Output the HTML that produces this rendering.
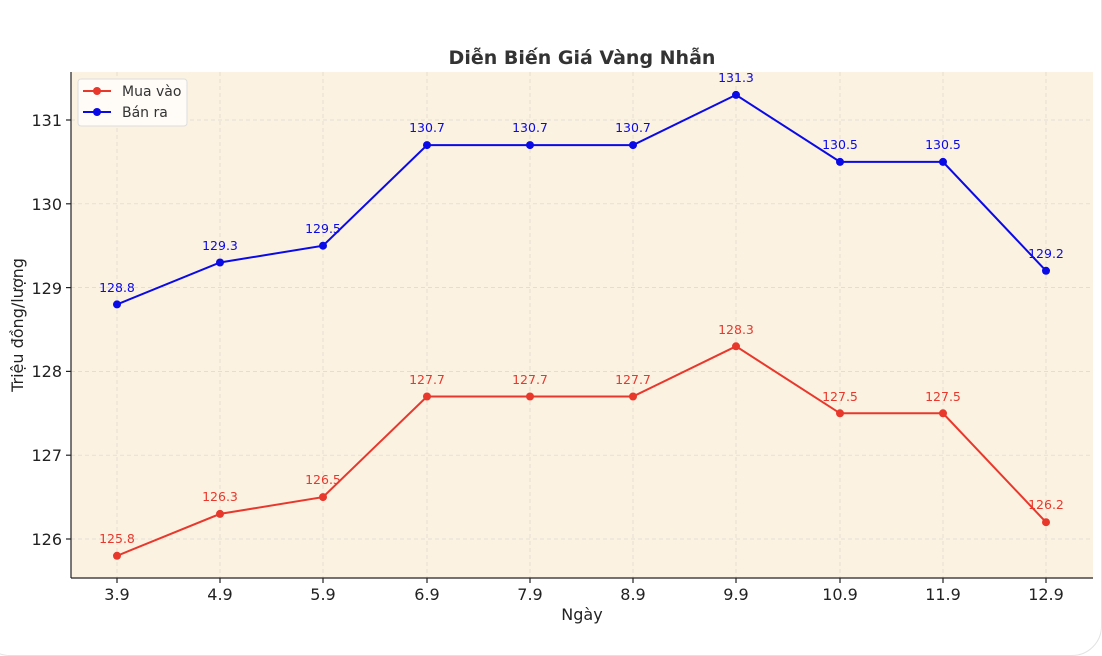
<!DOCTYPE html>
<html><head><meta charset="utf-8"><style>
body{margin:0;background:#fff;}
.card{position:absolute;left:-20px;top:-80px;width:1120px;height:734px;border:1px solid #e2e2e2;border-radius:30px;background:#fff;}
svg{position:absolute;left:0;top:0;font-family:"DejaVu Sans","Liberation Sans",sans-serif;}
</style></head><body>
<div class="card"></div>
<svg width="1102" height="656" viewBox="0 0 1102 656">
<rect x="71" y="72" width="1022" height="506" fill="#fcf2e2"/>
<g stroke="#ddd6cb" stroke-width="0.7" stroke-dasharray="4,3">
<line x1="117" y1="72" x2="117" y2="578"/><line x1="220" y1="72" x2="220" y2="578"/><line x1="323" y1="72" x2="323" y2="578"/><line x1="427" y1="72" x2="427" y2="578"/><line x1="530" y1="72" x2="530" y2="578"/><line x1="633" y1="72" x2="633" y2="578"/><line x1="736" y1="72" x2="736" y2="578"/><line x1="840" y1="72" x2="840" y2="578"/><line x1="943" y1="72" x2="943" y2="578"/><line x1="1046" y1="72" x2="1046" y2="578"/>
<line x1="71" y1="539" x2="1093" y2="539"/><line x1="71" y1="455.2" x2="1093" y2="455.2"/><line x1="71" y1="371.4" x2="1093" y2="371.4"/><line x1="71" y1="287.6" x2="1093" y2="287.6"/><line x1="71" y1="203.8" x2="1093" y2="203.8"/><line x1="71" y1="120" x2="1093" y2="120"/>
</g>
<g stroke="#222" stroke-width="1.2">
<line x1="71" y1="72" x2="71" y2="578"/><line x1="71" y1="578" x2="1093" y2="578"/>
<line x1="66" y1="539" x2="71" y2="539"/><line x1="66" y1="455.2" x2="71" y2="455.2"/><line x1="66" y1="371.4" x2="71" y2="371.4"/><line x1="66" y1="287.6" x2="71" y2="287.6"/><line x1="66" y1="203.8" x2="71" y2="203.8"/><line x1="66" y1="120" x2="71" y2="120"/>
<line x1="117" y1="578" x2="117" y2="583"/><line x1="220" y1="578" x2="220" y2="583"/><line x1="323" y1="578" x2="323" y2="583"/><line x1="427" y1="578" x2="427" y2="583"/><line x1="530" y1="578" x2="530" y2="583"/><line x1="633" y1="578" x2="633" y2="583"/><line x1="736" y1="578" x2="736" y2="583"/><line x1="840" y1="578" x2="840" y2="583"/><line x1="943" y1="578" x2="943" y2="583"/><line x1="1046" y1="578" x2="1046" y2="583"/>
</g>
<g font-size="16" fill="#222" text-anchor="end">
<text x="62" y="545">126</text><text x="62" y="461">127</text><text x="62" y="377">128</text><text x="62" y="294">129</text><text x="62" y="210">130</text><text x="62" y="126">131</text>
</g>
<g font-size="16" fill="#222" text-anchor="middle">
<text x="117" y="600">3.9</text><text x="220" y="600">4.9</text><text x="323" y="600">5.9</text><text x="427" y="600">6.9</text><text x="530" y="600">7.9</text><text x="633" y="600">8.9</text><text x="736" y="600">9.9</text><text x="840" y="600">10.9</text><text x="943" y="600">11.9</text><text x="1046" y="600">12.9</text>
<text x="582" y="620" font-size="16">Ngày</text>
<text x="582" y="64" font-size="19" font-weight="bold" fill="#333">Diễn Biến Giá Vàng Nhẫn</text>
</g>
<text transform="translate(23,325) rotate(-90)" font-size="16" fill="#222" text-anchor="middle">Triệu đồng/lượng</text>
<polyline fill="none" stroke="#0a0ae6" stroke-width="2" points="117,304.4 220,262.5 323,245.7 427,145.1 530,145.1 633,145.1 736,94.9 840,161.9 943,161.9 1046,270.8"/>
<polyline fill="none" stroke="#e8382c" stroke-width="2" points="117,555.8 220,513.9 323,497.1 427,396.5 530,396.5 633,396.5 736,346.3 840,413.3 943,413.3 1046,522.2"/>
<g fill="#0a0ae6"><circle cx="117" cy="304.4" r="4"/><circle cx="220" cy="262.5" r="4"/><circle cx="323" cy="245.7" r="4"/><circle cx="427" cy="145.1" r="4"/><circle cx="530" cy="145.1" r="4"/><circle cx="633" cy="145.1" r="4"/><circle cx="736" cy="94.9" r="4"/><circle cx="840" cy="161.9" r="4"/><circle cx="943" cy="161.9" r="4"/><circle cx="1046" cy="270.8" r="4"/></g>
<g fill="#e8382c"><circle cx="117" cy="555.8" r="4"/><circle cx="220" cy="513.9" r="4"/><circle cx="323" cy="497.1" r="4"/><circle cx="427" cy="396.5" r="4"/><circle cx="530" cy="396.5" r="4"/><circle cx="633" cy="396.5" r="4"/><circle cx="736" cy="346.3" r="4"/><circle cx="840" cy="413.3" r="4"/><circle cx="943" cy="413.3" r="4"/><circle cx="1046" cy="522.2" r="4"/></g>
<g font-size="12.5" fill="#0a0ae6" text-anchor="middle">
<text x="117" y="292">128.8</text><text x="220" y="250">129.3</text><text x="323" y="233">129.5</text><text x="427" y="132">130.7</text><text x="530" y="132">130.7</text><text x="633" y="132">130.7</text><text x="736" y="82">131.3</text><text x="840" y="149">130.5</text><text x="943" y="149">130.5</text><text x="1046" y="258">129.2</text>
</g>
<g font-size="12.5" fill="#e8382c" text-anchor="middle">
<text x="117" y="543">125.8</text><text x="220" y="501">126.3</text><text x="323" y="484">126.5</text><text x="427" y="384">127.7</text><text x="530" y="384">127.7</text><text x="633" y="384">127.7</text><text x="736" y="334">128.3</text><text x="840" y="401">127.5</text><text x="943" y="401">127.5</text><text x="1046" y="509">126.2</text>
</g>
<rect x="78" y="79" width="109" height="47" rx="3" fill="#fffcf8" stroke="#ddd"/>
<line x1="83" y1="91" x2="111" y2="91" stroke="#e8382c" stroke-width="2"/><circle cx="97" cy="91" r="4" fill="#e8382c"/>
<line x1="83" y1="112" x2="111" y2="112" stroke="#0a0ae6" stroke-width="2"/><circle cx="97" cy="112" r="4" fill="#0a0ae6"/>
<text x="122" y="96" font-size="14" fill="#333">Mua vào</text>
<text x="122" y="117" font-size="14" fill="#333">Bán ra</text>
</svg>
</body></html>
